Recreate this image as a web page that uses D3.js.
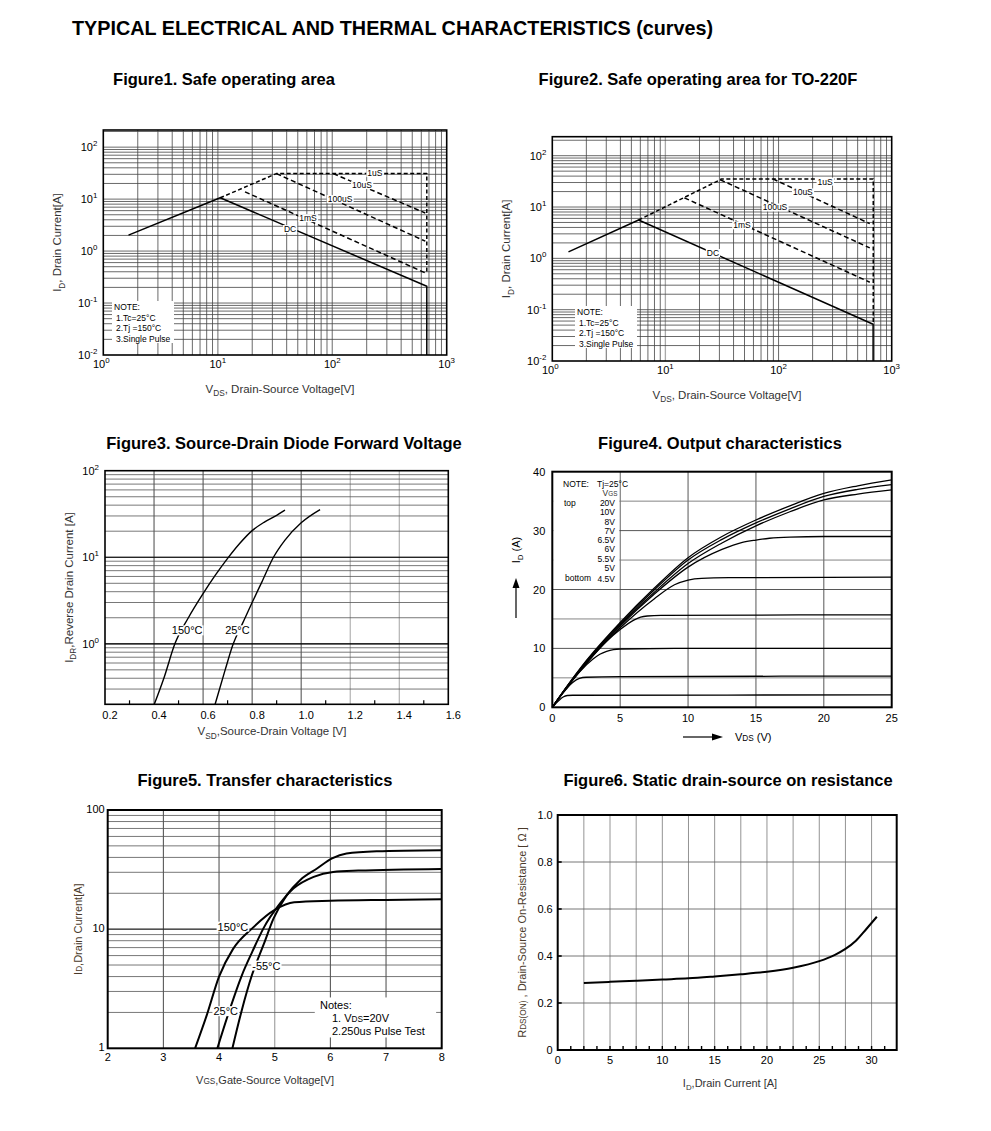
<!DOCTYPE html>
<html><head><meta charset="utf-8">
<script src="https://cdn.jsdelivr.net/npm/d3@7"></script>
<style>body{margin:0;background:#fff}svg{display:block}</style>
</head><body><svg id="c" width="991" height="1131"></svg>
<script>
// ---------------- DATA ----------------
// Figure 1: SOA (V, A)
const fig1Dc = [[1.66,2.03],[10.5,10.6],[670,0.21],[670,0.01]];
const fig1Limit = [[10.5,10.6],[32.5,31],[670,31],[670,0.37]];
const fig1Us10 = [[102,31],[650,5.4]];
const fig1Us100 = [[32.5,31],[650,1.55]];
const fig1Ms1 = [[17.3,13.8],[650,0.38]];
const fig1LabelText = ['1uS','10uS','100uS','1mS','DC'];
const fig1LabelAt = [[236,31.6],[182,18.6],[117,10],[61.5,4.3],[42.8,2.65]];
// Figure 2: SOA TO-220F
const fig2Dc = [[1.39,1.34],[5.79,5.58],[685,0.052],[685,0.01]];
const fig2Limit = [[5.79,5.58],[30.5,34],[31,35.3],[687,35.3],[687,0.052]];
const fig2Us10 = [[89,35.3],[640,4.75]];
const fig2Us100 = [[30.5,34],[640,1.6]];
const fig2Ms1 = [[14.7,15.1],[640,0.343]];
const fig2LabelText = ['1uS','10uS','100uS','1mS','DC'];
const fig2LabelAt = [[258,31.3],[164,19.2],[93,9.8],[47.5,4.4],[26.3,1.27]];
const soaNote = ['NOTE:','1.Tc=25°C','2.Tj =150°C','3.Single Pulse'];
// Figure 3: diode forward (V, A)
const fig3T150 = [[0.401,0.2],[0.44,0.4],[0.485,1.0],[0.54,2.0],[0.6,3.8],[0.65,6.2],[0.7,9.7],[0.75,14.5],[0.8,20.3],[0.85,25.5],[0.9,30.5],[0.934,35]];
const fig3T25 = [[0.649,0.2],[0.69,0.5],[0.723,1.0],[0.76,1.7],[0.8,3.0],[0.84,5.2],[0.887,10],[0.934,15.8],[1.0,25],[1.077,35.5]];
const fig3Ticks = [0.2,0.4,0.6,0.8,1.0,1.2,1.4,1.6];
// Figure 4: output characteristics (VDS, ID)
const fig4Vgs20 = [[0,0],[1,3.3],[2.5,7.9],[5,14.4],[7.5,20.2],[10,25.4],[12.5,29.0],[15,31.8],[17.5,34.2],[20,36.3],[22.5,37.6],[25,38.6]];
const fig4Vgs10 = [[0,0],[1,3.3],[2.5,7.8],[5,14.2],[7.5,19.9],[10,25.0],[12.5,28.5],[15,31.3],[17.5,33.7],[20,35.8],[22.5,37.0],[25,37.8]];
const fig4Vgs8 = [[0,0],[1,3.2],[2.5,7.7],[5,14.0],[7.5,19.5],[10,24.4],[12.5,27.9],[15,30.8],[17.5,33.2],[20,35.2],[22.5,36.2],[25,36.9]];
const fig4Vgs7 = [[0,0],[1,3.2],[2.5,7.6],[5,13.8],[7.5,19.2],[10,23.8],[12.5,26.8],[14,28.0],[15,28.4],[16,28.7],[17.5,28.9],[20,29],[25,29]];
const fig4Vgs65 = [[0,0],[1,3.2],[2.5,7.5],[5,13.5],[7.5,18.4],[9,20.8],[10,21.6],[11,21.9],[13,22],[25,22.1]];
const fig4Vgs6 = [[0,0],[1,3.2],[2.5,7.4],[4,11.2],[5,13.2],[6,14.8],[6.5,15.3],[7,15.5],[8,15.6],[25,15.7]];
const fig4Vgs55 = [[0,0],[1,3.1],[2,6.0],[3,8.2],[3.5,9.0],[4,9.5],[4.5,9.8],[5,9.9],[10,10],[25,10]];
const fig4Vgs5 = [[0,0],[0.5,1.6],[1,3.0],[1.5,4.2],[2,4.9],[2.5,5.1],[5,5.2],[25,5.3]];
const fig4Vgs45 = [[0,0],[0.5,1.2],[0.8,1.75],[1.1,2.0],[1.5,2.05],[25,2.1]];
const fig4VgsLabels = ['20V','10V','8V','7V','6.5V','6V','5.5V','5V','4.5V'];
// Figure 5: transfer (VGS, ID)
const fig5T150 = [[3.57,1],[3.78,1.9],[4.0,4.0],[4.25,6.8],[4.6,10.2],[5.0,14.5],[5.35,16.8],[6,17.3],[7,17.6],[8,17.8]];
const fig5T25 = [[3.97,1],[4.2,2.17],[4.41,4.1],[4.6,6.5],[4.8,10.2],[5.1,16.5],[5.34,22],[5.7,27.5],[6.05,30.2],[6.5,31],[8,32]];
const fig5Tm55 = [[4.24,1],[4.41,2.1],[4.59,4.1],[4.8,7.4],[4.98,12.3],[5.22,19.4],[5.46,25.9],[5.76,32.3],[6.03,39.3],[6.29,43.2],[6.83,45],[8,46]];
// Figure 6: RDS(on) vs ID
const fig6Id = [2.5,5,7.5,10,12.5,15,17.5,20,22.5,25,26.5,27.5,28.5,29.5,30.5];
const fig6R = [0.285,0.29,0.295,0.3,0.305,0.313,0.322,0.333,0.35,0.378,0.405,0.43,0.465,0.515,0.567];

// ---------------- HELPERS ----------------
const F = '"Liberation Sans", Arial, Helvetica, sans-serif';
const svg = d3.select('#c');
svg.append('rect').attr('width',991).attr('height',1131).attr('fill','#fff');

function addText(g, x, y, parts, o={}) {
  const size = o.size||11;
  const t = g.append('text').attr('x',x).attr('y',y).attr('font-size',size)
    .attr('font-family',F).attr('fill',o.color||'#000')
    .attr('text-anchor',o.anchor||'start').attr('font-weight',o.bold?'bold':'normal');
  if (o.rotate) t.attr('transform',`rotate(${o.rotate},${x},${y})`);
  let shift=0;
  (Array.isArray(parts)?parts:[parts]).forEach(p=>{
    const [s,k] = Array.isArray(p)?p:[p,''];
    const target = k==='sub'? size*0.3 : k==='sup' ? -size*0.45 : 0;
    const ts = t.append('tspan').attr('dy', target-shift).text(s);
    if (k) ts.attr('font-size', size*(k==='sc'?0.75:0.72));
    shift = target;
  });
  if (o.bg) {
    const b = t.node().getBBox();
    g.insert('rect', () => t.node()).attr('x',b.x-1).attr('y',b.y+1).attr('width',b.width+2).attr('height',b.height-2).attr('fill','#fff');
  }
  return t;
}
function vlines(g, vals, sx, y0, y1, color, w) {
  g.selectAll(null).data(vals).enter().append('line')
   .attr('x1',d=>sx(d)).attr('x2',d=>sx(d)).attr('y1',y0).attr('y2',y1)
   .attr('stroke',color).attr('stroke-width',w);
}
function hlines(g, vals, sy, x0, x1, color, w) {
  g.selectAll(null).data(vals).enter().append('line')
   .attr('y1',d=>sy(d)).attr('y2',d=>sy(d)).attr('x1',x0).attr('x2',x1)
   .attr('stroke',color).attr('stroke-width',w);
}
function logVals(lo, hi, max) {
  const out=[]; for (let e=lo; e<hi; e++) for (let m=1;m<10;m++) { const v=+(m*Math.pow(10,e)).toPrecision(6); if(v<=max) out.push(v);} return out;
}
function frame(g, x0,y0,x1,y1,w) {
  g.append('rect').attr('x',x0).attr('y',y0).attr('width',x1-x0).attr('height',y1-y0)
   .attr('fill','none').attr('stroke','#000').attr('stroke-width',w);
}
function curve(g, data, sx, sy, o={}) {
  const line = d3.line().x(d=>sx(d[0])).y(d=>sy(d[1])).curve(o.smooth?d3.curveMonotoneX:d3.curveLinear);
  const p = g.append('path').attr('d', line(data)).attr('fill','none').attr('stroke','#000')
    .attr('stroke-width', o.w||1.6).attr('stroke-linejoin','round');
  if (o.dash) p.attr('stroke-dasharray', o.dash);
  return p;
}
const TS = 16.5; // figure title size

// ---------------- TITLE ----------------
addText(svg, 72, 35, 'TYPICAL ELECTRICAL AND THERMAL CHARACTERISTICS (curves)', {size:19.8, bold:true});

// ---------------- SOA panels ----------------
function soa(c) {
  const g = svg.append('g');
  const x = d3.scaleLog().domain([1,1000]).range([c.l,c.r]);
  const y = d3.scaleLog().domain([0.01, c.ytop]).range([c.b,c.t]);
  addText(g, c.titleX, 85, c.title, {size:TS, bold:true, anchor:'middle'});
  vlines(g, logVals(0,3,1000).filter(v=>v>1), x, c.t, c.b, '#444', 0.8);
  vlines(g, [10], x, c.t, c.b, '#aaa', 1.2);
  hlines(g, logVals(-2,3,c.ytop).filter(v=>v>0.01), y, c.l, c.r, '#444', 0.8);
  // note box
  const nb = g.append('g');
  nb.append('rect').attr('x',c.note[0]).attr('y',c.note[1]).attr('width',62).attr('height',42).attr('fill','#fff');
  soaNote.forEach((s,i)=> addText(nb, c.note[0]+(i?4:2), c.note[1]+9+i*10.5, s, {size:8.5}));
  curve(g, c.dc, x, y, {w:1.5});
  curve(g, c.limit, x, y, {w:1.5, dash:'4,2.5'});
  curve(g, c.us10, x, y, {w:1.5, dash:'5,3'});
  curve(g, c.us100, x, y, {w:1.5, dash:'5,3'});
  curve(g, c.ms1, x, y, {w:1.5, dash:'5,3'});
  c.labels.forEach((s,i)=> addText(g, x(c.labelAt[i][0]), y(c.labelAt[i][1])+3, s, {size:8.5, anchor:'middle', bg:true}));
  frame(g, c.l, c.t, c.r, c.b, 1.6);
  // tick labels
  [0,1,2,3].forEach(e=> addText(g, x(Math.pow(10,e))+ (e===0?-2:0), c.b+13, ['10',[String(e),'sup']], {size:11, anchor:'middle'}));
  [-2,-1,0,1,2].forEach(e=> addText(g, c.l-6, y(Math.pow(10,e))+4, ['10',[String(e),'sup']], {size:11, anchor:'end'}));
  addText(g, c.l-42, (c.t+c.b)/2, ['I',['D','sub'],', Drain Current[A]'], {size:11.5, anchor:'middle', rotate:-90, color:'#333'});
  addText(g, (c.l+c.r)/2+5, c.b+38, ['V',['DS','sub'],', Drain-Source Voltage[V]'], {size:11.5, anchor:'middle', color:'#333'});
}
soa({l:103.3, r:446.7, t:130, b:355, ytop:Math.pow(10,2.33), titleX:224, title:'Figure1. Safe operating area',
     dc:fig1Dc, limit:fig1Limit, us10:fig1Us10, us100:fig1Us100, ms1:fig1Ms1,
     labels:fig1LabelText, labelAt:fig1LabelAt, note:[112,301]});
soa({l:552.3, r:891.7, t:136.7, b:361, ytop:Math.pow(10,2.37), titleX:698, title:'Figure2. Safe operating area for TO-220F',
     dc:fig2Dc, limit:fig2Limit, us10:fig2Us10, us100:fig2Us100, ms1:fig2Ms1,
     labels:fig2LabelText, labelAt:fig2LabelAt, note:[575,306]});

// ---------------- Figure 3 ----------------
(function(){
  const g = svg.append('g');
  const l=105, r=448.3, t=470.7, b=704.3;
  const x = d3.scaleLinear().domain([0.2,1.6]).range([l,r]);
  const y = d3.scaleLog().domain([0.2,100]).range([b,t]);
  addText(g, 284, 449, 'Figure3. Source-Drain Diode Forward Voltage', {size:TS, bold:true, anchor:'middle'});
  vlines(g, [0.4,0.6,0.8,1.0], x, t, b, '#333', 0.9);
  vlines(g, [1.2,1.4], x, t, b, '#999', 0.9);
  hlines(g, logVals(-1,2,100).filter(v=>v>0.2 && v<100), y, l, r, '#555', 0.8);
  hlines(g, [1,10], y, l, r, '#000', 1.2);
  g.selectAll(null).data([0.3,0.5,0.7,0.9,1.1,1.3,1.5]).enter().append('line')
    .attr('x1',d=>x(d)).attr('x2',d=>x(d)).attr('y1',b).attr('y2',b-4).attr('stroke','#000').attr('stroke-width',1.2);
  curve(g, fig3T150, x, y, {smooth:true, w:1.4});
  curve(g, fig3T25, x, y, {smooth:true, w:1.4});
  addText(g, x(0.535), y(1.43)+4, '150°C', {size:11, anchor:'middle', bg:true});
  addText(g, x(0.74), y(1.43)+4, '25°C', {size:11, anchor:'middle', bg:true});
  frame(g, l, t, r, b, 1.6);
  fig3Ticks.forEach(v=> addText(g, x(v)+5, b+15, v.toFixed(1), {size:11, anchor:'middle'}));
  [0,1,2].forEach(e=> addText(g, l-6, y(Math.pow(10,e))+4, ['10',[String(e),'sup']], {size:11, anchor:'end'}));
  addText(g, l-32, (t+b)/2, ['I',['DR','sub'],',Reverse Drain Current  [A]'], {size:11.5, anchor:'middle', rotate:-90, color:'#333'});
  addText(g, 272, b+31, ['V',['SD','sub'],',Source-Drain Voltage  [V]'], {size:11.5, anchor:'middle', color:'#333'});
})();

// ---------------- Figure 4 ----------------
(function(){
  const g = svg.append('g');
  const l=552.3, r=891.7, t=471.7, b=707.3;
  const x = d3.scaleLinear().domain([0,25]).range([l,r]);
  const y = d3.scaleLinear().domain([0,40]).range([b,t]);
  addText(g, 720, 449, 'Figure4. Output characteristics', {size:TS, bold:true, anchor:'middle'});
  vlines(g, [5,10,15,20], x, t, b, '#444', 0.9);
  hlines(g, [10,20,30], y, l, r, '#444', 0.9);
  hlines(g, [5,15,25,35], y, l, r, '#777', 0.9);
  g.append('rect').attr('x',l+1).attr('y',t+1).attr('width',66).attr('height',116).attr('fill','#fff');
  [fig4Vgs20,fig4Vgs10,fig4Vgs8,fig4Vgs7,fig4Vgs65,fig4Vgs6,fig4Vgs55,fig4Vgs5,fig4Vgs45]
    .forEach(s=> curve(g, s, x, y, {smooth:true, w:1.3}));
  frame(g, l, t, r, b, 2);
  addText(g, 563, 487, 'NOTE:', {size:8.5});
  addText(g, 597, 487, 'Tj=25°C', {size:8.5});
  addText(g, 610, 496, ['V',['GS','sc']], {size:8.5, anchor:'middle', color:'#333'});
  const ys = [506,515,524.5,534,543,551.5,562,571,581.5];
  fig4VgsLabels.forEach((s,i)=> addText(g, 615, ys[i], s, {size:8.5, anchor:'end'}));
  addText(g, 564, 506, 'top', {size:8.5});
  addText(g, 565, 580.5, 'bottom', {size:8.5});
  [0,5,10,15,20,25].forEach(v=> addText(g, x(v), b+15, String(v), {size:11, anchor:'middle'}));
  [0,10,20,30,40].forEach(v=> addText(g, l-7, y(v)+4, String(v), {size:11, anchor:'end'}));
  g.append('line').attr('x1',516).attr('x2',516).attr('y1',618).attr('y2',586).attr('stroke','#000').attr('stroke-width',1.2);
  g.append('path').attr('d','M516,578 L512.5,588 L519.5,588 Z').attr('fill','#000');
  addText(g, 520, 550, ['I',['D','sub'],' (A)'], {size:11, anchor:'middle', rotate:-90});
  g.append('line').attr('x1',683).attr('x2',714).attr('y1',737).attr('y2',737).attr('stroke','#000').attr('stroke-width',1.2);
  g.append('path').attr('d','M723,737 L712,733.5 L712,740.5 Z').attr('fill','#000');
  addText(g, 735, 741, ['V',['DS','sc'],' (V)'], {size:11});
})();

// ---------------- Figure 5 ----------------
(function(){
  const g = svg.append('g');
  const l=107.7, r=441.7, t=810, b=1048.3;
  const x = d3.scaleLinear().domain([2,8]).range([l,r]);
  const y = d3.scaleLog().domain([1,100]).range([b,t]);
  addText(g, 265, 786, 'Figure5. Transfer characteristics', {size:TS, bold:true, anchor:'middle'});
  vlines(g, [3,4,6,7], x, t, b, '#333', 0.9);
  vlines(g, [5], x, t, b, '#aaa', 1.3);
  hlines(g, logVals(0,2,100).filter(v=>v>1 && v<100), y, l, r, '#555', 0.8);
  hlines(g, [10], y, l, r, '#222', 1);
  g.append('rect').attr('x',x(5.72)).attr('y',y(3.0)+6).attr('width',x(7.9)-x(5.72)).attr('height',40).attr('fill','#fff');
  curve(g, fig5T150, x, y, {smooth:true, w:2});
  curve(g, fig5T25, x, y, {smooth:true, w:2});
  curve(g, fig5Tm55, x, y, {smooth:true, w:2});
  addText(g, x(4.25), y(10.5)+4, '150°C', {size:11, anchor:'middle', bg:true});
  addText(g, x(4.12), y(2.05)+4, '25°C', {size:11, anchor:'middle', bg:true});
  addText(g, x(4.85), y(4.95)+4, '-55°C', {size:11, anchor:'middle', bg:true});
  addText(g, 320, 1009, 'Notes:', {size:11});
  addText(g, 332, 1022, ['1. V',['DS','sc'],'=20V'], {size:11});
  addText(g, 332, 1035, '2.250us Pulse Test', {size:11});
  frame(g, l, t, r, b, 2);
  [2,3,4,5,6,7,8].forEach(v=> addText(g, x(v), b+13, String(v), {size:11, anchor:'middle'}));
  [[1,'1'],[10,'10'],[100,'100']].forEach(d=> addText(g, l-3, y(d[0])+3, d[1], {size:11, anchor:'end'}));
  addText(g, 82, (t+b)/2, ['I',['D','sc'],',Drain Current[A]'], {size:11, anchor:'middle', rotate:-90, color:'#4a3a2a'});
  addText(g, 265, 1084, ['V',['GS','sc'],',Gate-Source Voltage[V]'], {size:11, anchor:'middle', color:'#333'});
})();

// ---------------- Figure 6 ----------------
(function(){
  const g = svg.append('g');
  const l=557.7, r=896.7, t=815, b=1050;
  const x = d3.scaleLinear().domain([0,32.4]).range([l,r]);
  const y = d3.scaleLinear().domain([0,1]).range([b,t]);
  addText(g, 728, 786, 'Figure6. Static drain-source on resistance', {size:TS, bold:true, anchor:'middle'});
  vlines(g, d3.range(2.5,32,2.5), x, t, b, '#888', 0.9);
  hlines(g, [0.2,0.4,0.6,0.8], y, l, r, '#666', 0.9);
  g.selectAll(null).data(d3.range(1.25,32.4,1.25)).enter().append('line')
    .attr('x1',d=>x(d)).attr('x2',d=>x(d)).attr('y1',b).attr('y2',b-4).attr('stroke','#000').attr('stroke-width',1.4);
  g.selectAll(null).data([0.2,0.4,0.6,0.8]).enter().append('line')
    .attr('x1',l).attr('x2',l+4).attr('y1',d=>y(d)).attr('y2',d=>y(d)).attr('stroke','#000').attr('stroke-width',1.6);
  curve(g, fig6Id.map((v,i)=>[v,fig6R[i]]), x, y, {smooth:true, w:2});
  frame(g, l, t, r, b, 2);
  [0,5,10,15,20,25,30].forEach(v=> addText(g, x(v), b+14, String(v), {size:11, anchor:'middle'}));
  [[0,'0'],[0.2,'0.2'],[0.4,'0.4'],[0.6,'0.6'],[0.8,'0.8'],[1,'1.0']].forEach(d=> addText(g, l-5, y(d[0])+4, d[1], {size:11, anchor:'end'}));
  addText(g, 526, (t+b)/2, ['R',['DS(ON)','sc'],' , Drain-Source On-Resistance [ Ω ]'], {size:11, anchor:'middle', rotate:-90, color:'#4a3a2a'});
  addText(g, 730, 1087, ['I',['D','sub'],',Drain Current [A]'], {size:11, anchor:'middle', color:'#333'});
})();
</script></body></html>
